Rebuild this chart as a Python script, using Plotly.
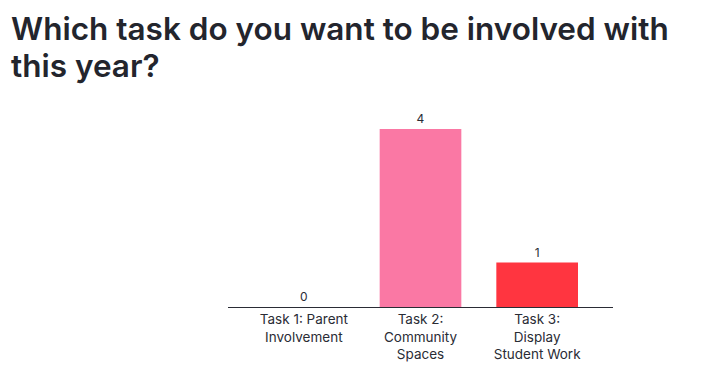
import plotly.graph_objects as go

categories = ["Task 1: Parent<br>Involvement", "Task 2:<br>Community<br>Spaces", "Task 3:<br>Display<br>Student Work"]
values = [0, 4, 1]
colors = ["#6B8AFF", "#FA78A4", "#FF3540"]
title_lines = ["Which task do you want to be involved with", "this year?"]

L, R, T, B = 220, 107, 102, 70
W, H = 712, 369
pw, ph = W - L - R, H - T - B

fig = go.Figure(go.Bar(
    x=categories, y=values,
    marker=dict(color=colors, line=dict(width=0)),
    text=[str(v) for v in values], textposition="outside",
    textfont=dict(family="Inter, Arial", size=12, color="#2a2c35"),
    cliponaxis=False,
))

for i, line in enumerate(title_lines):
    fig.add_annotation(
        text=line, showarrow=False, align="left",
        xref="paper", yref="paper",
        x=(1 - L) / pw, xanchor="left",
        y=1 + (T + 1 - 37 * i) / ph, yanchor="top",
        font=dict(family="Inter", size=31.5, color="#23252d", weight=600),
    )

fig.update_layout(
    width=W, height=H,
    paper_bgcolor="white", plot_bgcolor="white",
    margin=dict(l=L, r=R, t=T, b=B),
    bargap=0.3,
    showlegend=False,
    xaxis=dict(
        range=[-0.65, 2.65], showgrid=False, zeroline=False,
        showline=True, linecolor="#2a2c35", linewidth=1,
        ticks="", tickfont=dict(family="Inter, Arial", size=13.5, color="#2a2c35"),
    ),
    yaxis=dict(
        range=[0, 4.43], showgrid=False, zeroline=False, showline=False,
        showticklabels=False, ticks="",
    ),
)

fig.write_html("out.html")
